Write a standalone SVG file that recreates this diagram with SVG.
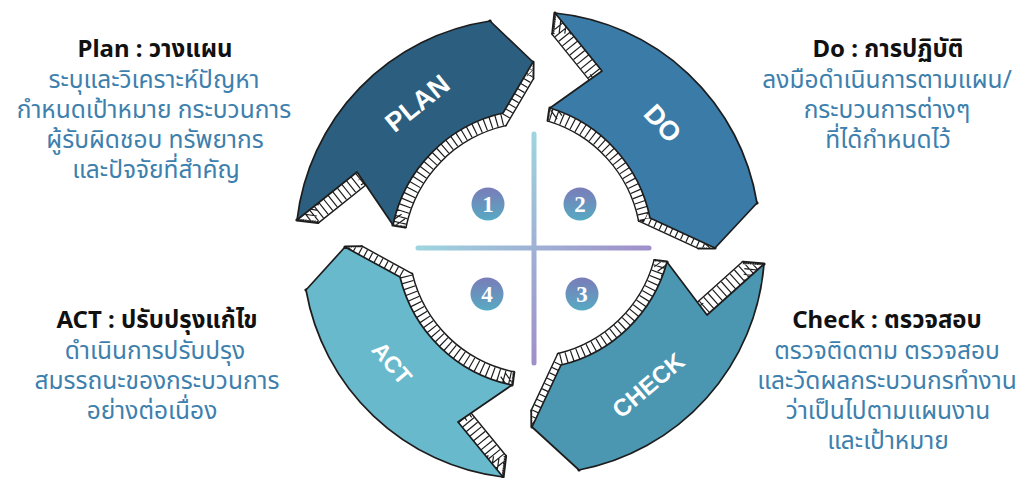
<svg xmlns="http://www.w3.org/2000/svg" xmlns:xlink="http://www.w3.org/1999/xlink" width="1027" height="478" viewBox="0 0 1027 478">
<defs>
<style>
.title{font-family:"Noto Sans","Noto Sans Thai","DejaVu Sans",sans-serif;font-weight:700;font-size:24px;fill:#111;text-anchor:middle}
.body{font-family:"Noto Sans","Noto Sans Thai","DejaVu Sans",sans-serif;font-size:24.5px;fill:#3d80ad;text-anchor:middle}
.lbl{font-family:"Liberation Sans",Arial,sans-serif;font-weight:700;fill:#fff;text-anchor:middle}
.face{stroke:#1d1d1d;stroke-width:1.7;stroke-linejoin:round}
.edge{fill:none;stroke:#1d1d1d;stroke-width:3.2;stroke-linejoin:round;stroke-linecap:round}
.tick{fill:none;stroke:#1d1d1d;stroke-width:18;stroke-dasharray:1.25 4.9}
.num{font-family:"Liberation Serif","DejaVu Serif",serif;font-weight:700;font-size:23px;fill:#fff;text-anchor:middle}
</style>
<path id="s-plan" d="M297,220 A228,228 0 0 1 490,21 L533,62 L503,113 A145,145 0 0 0 393,225 L357,172 Z"/>
<path id="s-do" d="M555,13 A228,228 0 0 1 757,203 L715,248 L650,218 A145,145 0 0 0 550,108 L602,71 Z"/>
<path id="s-check" d="M764,264 A228,228 0 0 1 579,470 L532,427 L561,365 A145,145 0 0 0 667,262 L707,315 Z"/>
<path id="s-act" d="M503,477 A228,228 0 0 1 306,290 L345,247 L400,277 A145,145 0 0 0 512,385 L458,422 Z"/>
<clipPath id="c-plan">
<use href="#s-plan"/>
<use href="#s-plan" transform="matrix(.99 0 0 .99 5.305 2.455)"/>
<use href="#s-plan" transform="matrix(.98 0 0 .98 10.61 4.91)"/>
<use href="#s-plan" transform="matrix(.97 0 0 .97 15.915 7.365)"/>
<use href="#s-plan" transform="matrix(.96 0 0 .96 21.22 9.82)"/>
<use href="#s-plan" transform="matrix(.95 0 0 .95 26.525 12.275)"/>
<use href="#s-plan" transform="matrix(.94 0 0 .94 31.83 14.73)"/>
<use href="#s-plan" transform="matrix(.93 0 0 .93 37.135 17.185)"/>
<use href="#s-plan" transform="matrix(.92 0 0 .92 42.44 19.64)"/>
<use href="#s-plan" transform="matrix(.91 0 0 .91 47.745 22.095)"/>
</clipPath>
<clipPath id="c-do">
<use href="#s-do"/>
<use href="#s-do" transform="matrix(.99 0 0 .99 5.305 2.455)"/>
<use href="#s-do" transform="matrix(.98 0 0 .98 10.61 4.91)"/>
<use href="#s-do" transform="matrix(.97 0 0 .97 15.915 7.365)"/>
<use href="#s-do" transform="matrix(.96 0 0 .96 21.22 9.82)"/>
<use href="#s-do" transform="matrix(.95 0 0 .95 26.525 12.275)"/>
<use href="#s-do" transform="matrix(.94 0 0 .94 31.83 14.73)"/>
<use href="#s-do" transform="matrix(.93 0 0 .93 37.135 17.185)"/>
<use href="#s-do" transform="matrix(.92 0 0 .92 42.44 19.64)"/>
<use href="#s-do" transform="matrix(.91 0 0 .91 47.745 22.095)"/>
</clipPath>
<clipPath id="c-check">
<use href="#s-check"/>
<use href="#s-check" transform="matrix(.99 0 0 .99 5.305 2.455)"/>
<use href="#s-check" transform="matrix(.98 0 0 .98 10.61 4.91)"/>
<use href="#s-check" transform="matrix(.97 0 0 .97 15.915 7.365)"/>
<use href="#s-check" transform="matrix(.96 0 0 .96 21.22 9.82)"/>
<use href="#s-check" transform="matrix(.95 0 0 .95 26.525 12.275)"/>
<use href="#s-check" transform="matrix(.94 0 0 .94 31.83 14.73)"/>
<use href="#s-check" transform="matrix(.93 0 0 .93 37.135 17.185)"/>
<use href="#s-check" transform="matrix(.92 0 0 .92 42.44 19.64)"/>
<use href="#s-check" transform="matrix(.91 0 0 .91 47.745 22.095)"/>
</clipPath>
<clipPath id="c-act">
<use href="#s-act"/>
<use href="#s-act" transform="matrix(.99 0 0 .99 5.305 2.455)"/>
<use href="#s-act" transform="matrix(.98 0 0 .98 10.61 4.91)"/>
<use href="#s-act" transform="matrix(.97 0 0 .97 15.915 7.365)"/>
<use href="#s-act" transform="matrix(.96 0 0 .96 21.22 9.82)"/>
<use href="#s-act" transform="matrix(.95 0 0 .95 26.525 12.275)"/>
<use href="#s-act" transform="matrix(.94 0 0 .94 31.83 14.73)"/>
<use href="#s-act" transform="matrix(.93 0 0 .93 37.135 17.185)"/>
<use href="#s-act" transform="matrix(.92 0 0 .92 42.44 19.64)"/>
<use href="#s-act" transform="matrix(.91 0 0 .91 47.745 22.095)"/>
</clipPath>
<linearGradient id="g-v" gradientUnits="userSpaceOnUse" x1="534" y1="134" x2="534" y2="363">
<stop offset="0" stop-color="#9ed4df"/><stop offset="1" stop-color="#a08fca"/>
</linearGradient>
<linearGradient id="g-h" gradientUnits="userSpaceOnUse" x1="418" y1="248" x2="649" y2="248">
<stop offset="0" stop-color="#9ed4df"/><stop offset="1" stop-color="#a08fca"/>
</linearGradient>
<linearGradient id="g-c" x1="0" y1="0" x2="0" y2="1">
<stop offset="0" stop-color="#7a7cb8"/><stop offset="1" stop-color="#57aac3"/>
</linearGradient>
</defs>
<rect width="1027" height="478" fill="#fff"/>

<g id="cross">
<line x1="534" y1="134" x2="534" y2="363" stroke="url(#g-v)" stroke-width="5" stroke-linecap="round"/>
<line x1="418" y1="248" x2="649" y2="248" stroke="url(#g-h)" stroke-width="5" stroke-linecap="round"/>
</g>

<g id="numbers">
<g id="n1"><circle cx="488" cy="204" r="16.5" fill="url(#g-c)"/><text class="num" x="488" y="212">1</text></g>
<g id="n2"><circle cx="580" cy="204" r="16.5" fill="url(#g-c)"/><text class="num" x="580" y="212">2</text></g>
<g id="n3"><circle cx="582" cy="294" r="16.5" fill="url(#g-c)"/><text class="num" x="582" y="302">3</text></g>
<g id="n4"><circle cx="487" cy="294" r="16.5" fill="url(#g-c)"/><text class="num" x="487" y="302">4</text></g>
</g>

<g id="plan">
<use href="#s-plan" class="edge" transform="matrix(.91 0 0 .91 47.745 22.095)"/>
<path class="edge" d="M297,220L318,222.3M490,21L493.6,41.2M533,62L532.8,78.5M503,113L505.5,124.9M393,225L405.4,226.8M357,172L372.6,178.6"/>
<g clip-path="url(#c-plan)">
<rect x="250" y="0" width="320" height="260" fill="#fff"/>
<use href="#s-plan" class="tick" transform="matrix(.955 0 0 .955 23.87 11.05)"/>
</g>
<use href="#s-plan" class="face" fill="#2c5f7f"/>
<text class="lbl" font-size="27" transform="translate(417,103) rotate(-38.7)" dy="0.36em">PLAN</text>
</g>

<g id="do">
<use href="#s-do" class="edge" transform="matrix(.91 0 0 .91 47.745 22.095)"/>
<path class="edge" d="M555,13L552.8,33.9M757,203L736.6,206.8M715,248L698.4,247.8M650,218L639.2,220.5M550,108L548.2,120.4M602,71L595.6,86.7"/>
<g clip-path="url(#c-do)">
<rect x="500" y="0" width="290" height="270" fill="#fff"/>
<use href="#s-do" class="tick" transform="matrix(.955 0 0 .955 23.87 11.05)"/>
</g>
<use href="#s-do" class="face" fill="#3a7ba7"/>
<text class="lbl" font-size="27" transform="translate(663,123) rotate(47.4)" dy="0.36em">DO</text>
</g>

<g id="check">
<use href="#s-check" class="edge" transform="matrix(.91 0 0 .91 47.745 22.095)"/>
<path class="edge" d="M764,264L743,262.3M579,470L574.6,449.8M532,427L531.9,410.7M561,365L558.3,354.2M667,262L654.7,260.5M707,315L691.1,308.7"/>
<g clip-path="url(#c-check)">
<rect x="500" y="230" width="290" height="248" fill="#fff"/>
<use href="#s-check" class="tick" transform="matrix(.955 0 0 .955 23.87 11.05)"/>
</g>
<use href="#s-check" class="face" fill="#4b96b1"/>
<text class="lbl" font-size="24" transform="translate(648,385) rotate(-40.2)" dy="0.36em">CHECK</text>
</g>

<g id="act">
<use href="#s-act" class="edge" transform="matrix(.91 0 0 .91 47.745 22.095)"/>
<path class="edge" d="M503,477L505.5,456.2M306,290L326.2,286M345,247L361.7,246.9M400,277L411.7,274.2M512,385L513.7,372.4M458,422L464.5,406.1"/>
<g clip-path="url(#c-act)">
<rect x="270" y="220" width="280" height="258" fill="#fff"/>
<use href="#s-act" class="tick" transform="matrix(.955 0 0 .955 23.87 11.05)"/>
</g>
<use href="#s-act" class="face" fill="#69b9cd"/>
<text class="lbl" font-size="23" transform="translate(392,363) rotate(49.7)" dy="0.36em">ACT</text>
</g>

<g id="text-plan">
<text class="title" x="155" y="57">Plan : วางแผน</text>
<text class="body" x="154" y="88">ระบุและวิเคราะห์ปัญหา</text>
<text class="body" x="154" y="118">กำหนดเป้าหมาย กระบวนการ</text>
<text class="body" x="155" y="148">ผู้รับผิดชอบ ทรัพยากร</text>
<text class="body" x="156" y="178">และปัจจัยที่สำคัญ</text>
</g>
<g id="text-do">
<text class="title" x="888" y="57">Do : การปฏิบัติ</text>
<text class="body" x="887" y="88">ลงมือดำเนินการตามแผน/</text>
<text class="body" x="887" y="118">กระบวนการต่างๆ</text>
<text class="body" x="888" y="148">ที่ได้กำหนดไว้</text>
</g>
<g id="text-act">
<text class="title" x="157" y="328">ACT : ปรับปรุงแก้ไข</text>
<text class="body" x="155" y="359">ดำเนินการปรับปรุง</text>
<text class="body" x="157" y="389">สมรรถนะของกระบวนการ</text>
<text class="body" x="152" y="419">อย่างต่อเนื่อง</text>
</g>
<g id="text-check">
<text class="title" x="887" y="328">Check : ตรวจสอบ</text>
<text class="body" x="887" y="359">ตรวจติดตาม ตรวจสอบ</text>
<text class="body" x="887" y="389">และวัดผลกระบวนกรทำงาน</text>
<text class="body" x="888" y="419">ว่าเป็นไปตามแผนงาน</text>
<text class="body" x="888" y="449">และเป้าหมาย</text>
</g>
</svg>
